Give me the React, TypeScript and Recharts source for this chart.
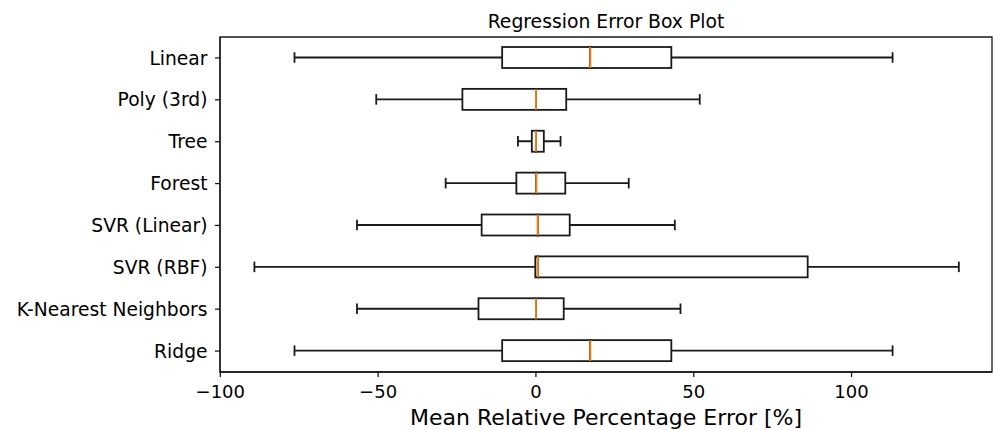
import React from 'react';
import { ComposedChart, Bar, XAxis, YAxis, ReferenceArea } from 'recharts';

// Box plot stats per model
const MODELS = ['Linear', 'Poly (3rd)', 'Tree', 'Forest', 'SVR (Linear)', 'SVR (RBF)', 'K-Nearest Neighbors', 'Ridge'];
const WHISKER_LOW = [-76.5, -50.6, -5.7, -28.6, -56.7, -89.2, -56.7, -76.5];
const Q1 = [-10.7, -23.3, -1.3, -6.2, -17.2, -0.2, -18.2, -10.7];
const MEDIAN = [17.2, 0, 0, 0.1, 0.6, 0.6, 0, 17.2];
const Q3 = [42.9, 9.6, 2.5, 9.3, 10.7, 86.1, 8.8, 42.9];
const WHISKER_HIGH = [113.0, 51.9, 7.8, 29.4, 44.0, 134.0, 45.8, 113.0];
const X_TICKS = [-100, -50, 0, 50, 100];
const X_DOMAIN = [-100.1, 144.5];

const INK = '#1a1a1a';
const MEDIAN_COLOR = '#ff7f0e';
const BOX_H = 21;
const LW = 1.8;

const data = MODELS.map((name, i) => ({
  name,
  whisker: [WHISKER_LOW[i], WHISKER_HIGH[i]],
  lower: [Q1[i], MEDIAN[i]],
  upper: [MEDIAN[i], Q3[i]],
}));

const fmt = (v: number) => (v < 0 ? '\u2212' + Math.abs(v) : String(v));

const WhiskerShape = (props: any) => {
  const { x, y, width, height } = props;
  const x0 = Math.min(x, x + width);
  const x1 = Math.max(x, x + width);
  const cy = y + height / 2;
  const cap = height / 4;
  return (
    <g stroke={INK} strokeWidth={LW} fill="none">
      <line x1={x0} x2={x1} y1={cy} y2={cy} />
      <line x1={x0} x2={x0} y1={cy - cap} y2={cy + cap} />
      <line x1={x1} x2={x1} y1={cy - cap} y2={cy + cap} />
    </g>
  );
};

const LowerBox = (props: any) => {
  const { x, y, width, height } = props;
  const x0 = Math.min(x, x + width);
  return <rect x={x0} y={y} width={Math.abs(width)} height={height} fill="#fff" stroke={INK} strokeWidth={LW} />;
};

const UpperBox = (props: any) => {
  const { x, y, width, height } = props;
  const x0 = Math.min(x, x + width);
  return (
    <g>
      <rect x={x0} y={y} width={Math.abs(width)} height={height} fill="#fff" stroke={INK} strokeWidth={LW} />
      {/* median sits on the shared edge of the two halves */}
      <line x1={x} x2={x} y1={y} y2={y + height} stroke={MEDIAN_COLOR} strokeWidth={LW} />
    </g>
  );
};

export default function App() {
  return (
    <div style={{ position: 'absolute', left: 0, top: 0, background: '#fff', fontFamily: 'DejaVu Sans' }}>
      <ComposedChart
        width={993}
        height={430}
        data={data}
        layout="vertical"
        barGap={-BOX_H}
        margin={{ top: 37, right: 1, bottom: 0, left: 0 }}
      >
        <XAxis
          type="number"
          domain={X_DOMAIN}
          ticks={X_TICKS}
          allowDataOverflow
          tickFormatter={fmt}
          height={58}
          tickSize={5}
          tickMargin={8}
          axisLine={{ stroke: INK, strokeWidth: 1.3 }}
          tickLine={{ stroke: INK, strokeWidth: 1.3 }}
          tick={{ fill: '#000', fontSize: 18 }}
          label={{ value: 'Mean Relative Percentage Error [%]', position: 'insideBottom', offset: 5, fill: '#000', fontSize: 22 }}
        />
        <YAxis
          type="category"
          dataKey="name"
          width={220}
          interval={0}
          tickSize={5}
          tickMargin={7.5}
          axisLine={{ stroke: INK, strokeWidth: 1.3 }}
          tickLine={{ stroke: INK, strokeWidth: 1.3 }}
          tick={{ fill: '#000', fontSize: 18.7 }}
        />
        {/* full frame round the plot, with the title above it */}
        <ReferenceArea
          x1={X_DOMAIN[0]}
          x2={X_DOMAIN[1]}
          fill="none"
          fillOpacity={0}
          stroke={INK}
          strokeWidth={1.3}
          label={{ value: 'Regression Error Box Plot', position: 'top', offset: 8.7, fill: '#000', fontSize: 18.8 }}
        />
        <Bar dataKey="whisker" barSize={BOX_H} shape={<WhiskerShape />} isAnimationActive={false} />
        <Bar dataKey="lower" barSize={BOX_H} shape={<LowerBox />} isAnimationActive={false} />
        <Bar dataKey="upper" barSize={BOX_H} shape={<UpperBox />} isAnimationActive={false} />
      </ComposedChart>
    </div>
  );
}
